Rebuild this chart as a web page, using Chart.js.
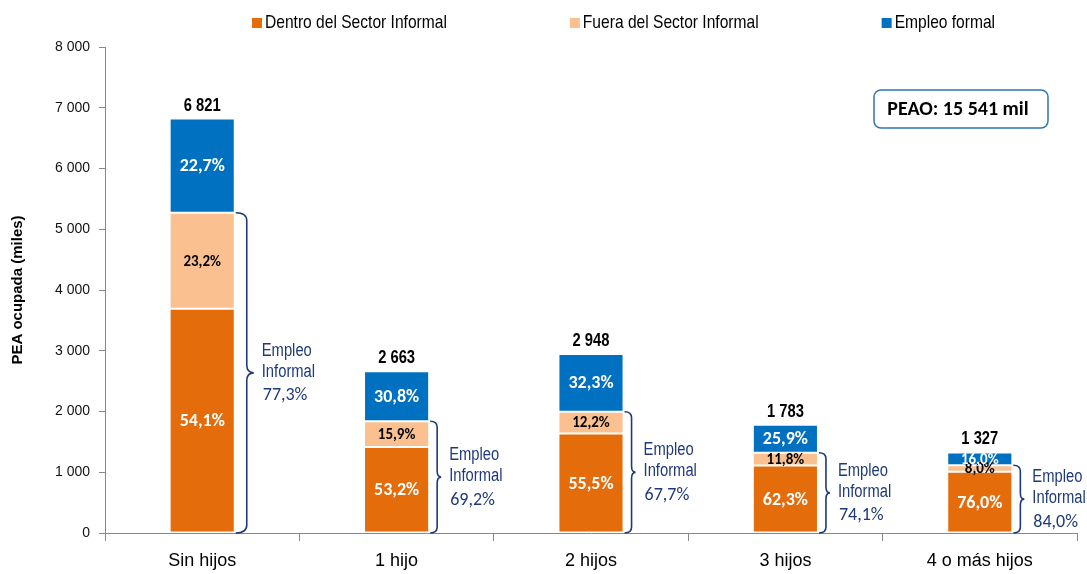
<!DOCTYPE html>
<html>
<head>
<meta charset="utf-8">
<script src="https://cdn.jsdelivr.net/npm/chart.js@4"></script>
<style>
  body { margin: 0; background: #fff; }
  #wrap { width: 1087px; height: 574px; }
</style>
</head>
<body>
<div id="wrap"><canvas id="chart" width="1087" height="574"></canvas></div>
<script>
// Categories and series (miles de personas)
const CATEGORIES = ['Sin hijos', '1 hijo', '2 hijos', '3 hijos', '4 o más hijos'];
const DENTRO = [3690, 1417, 1636, 1111, 1009];
const FUERA = [1582, 423, 360, 210, 106];
const FORMAL = [1549, 823, 952, 462, 212];
const TOTALS = [6821, 2663, 2948, 1783, 1327];

// Percent labels shown in the segments
const PCT_DENTRO = ['54,1%', '53,2%', '55,5%', '62,3%', '76,0%'];
const PCT_FUERA = ['23,2%', '15,9%', '12,2%', '11,8%', '8,0%'];
const PCT_FORMAL = ['22,7%', '30,8%', '32,3%', '25,9%', '16,0%'];
const PCT_INFORMAL = ['77,3%', '69,2%', '67,7%', '74,1%', '84,0%'];

const SERIES_NAMES = ['Dentro del Sector Informal', 'Fuera del Sector Informal', 'Empleo formal'];
const PEAO_TEXT = 'PEAO: 15 541 mil';

const ARIAL = "'Liberation Sans', Arial, sans-serif";
const CALIBRI = "Carlito, Lato, 'Open Sans', sans-serif";
const NAVY = '#1F3A7A';

function fmtThousands(v) {
    return String(v).replace(/\B(?=(\d{3})+(?!\d))/g, ' ');
}

// Arial Narrow look-alike: squeeze Liberation Sans horizontally
function narrowText(ctx, text, x, y, align) {
    const k = 0.82;
    ctx.save();
    ctx.translate(x, y);
    ctx.scale(k, 1);
    ctx.textAlign = align || 'left';
    ctx.fillText(text, 0, 0);
    ctx.restore();
    return ctx.measureText(text).width * k;
}

// Custom legend on top, spread out like the original
const legendPlugin = {
    id: 'spreadLegend',
    afterDraw(chart) {
        const ctx = chart.ctx;
        ctx.save();
        ctx.font = '19px ' + ARIAL;
        ctx.textBaseline = 'middle';
        let x = 252;
        const y = 23;
        chart.data.datasets.forEach(ds => {
            ctx.fillStyle = ds.backgroundColor;
            ctx.fillRect(x, y - 5, 10, 10);
            ctx.fillStyle = '#000';
            const w = narrowText(ctx, ds.label, x + 13, y, 'left');
            x += 13 + w + 123;
        });
        ctx.restore();
    }
};

// Segment labels, totals, braces and the PEAO box
const annotatePlugin = {
    id: 'annotate',
    afterDatasetsDraw(chart) {
        const ctx = chart.ctx;
        const pctSets = [PCT_DENTRO, PCT_FUERA, PCT_FORMAL];
        const base = chart.scales.y.getPixelForValue(0);
        ctx.save();
        ctx.textAlign = 'center';
        ctx.textBaseline = 'middle';

        // percent labels inside segments
        chart.data.datasets.forEach((ds, di) => {
            const meta = chart.getDatasetMeta(di);
            meta.data.forEach((bar, i) => {
                const h = Math.abs(bar.base - bar.y);
                const cy = (bar.y + bar.base) / 2;
                let size = di === 1 ? 15 : 18;
                if (h < 20) size = 15;
                ctx.font = 'bold ' + size + 'px ' + CALIBRI;
                ctx.fillStyle = di === 1 ? '#000' : '#fff';
                ctx.fillText(pctSets[di][i], bar.x, cy + 1);
            });
        });

        // totals above bars
        const topMeta = chart.getDatasetMeta(2);
        ctx.font = 'bold 18px ' + ARIAL;
        ctx.fillStyle = '#000';
        topMeta.data.forEach((bar, i) => {
            narrowText(ctx, fmtThousands(TOTALS[i]), bar.x, bar.y - 13, 'center');
        });

        // braces for informal employment
        const fueraMeta = chart.getDatasetMeta(1);
        fueraMeta.data.forEach((bar, i) => {
            const right = bar.x + bar.width / 2;
            const top = bar.y;
            const bottom = base;
            const mid = (top + bottom) / 2;
            const big = bottom - top > 200;
            const x0 = right + 1;
            const xv = right + (big ? 12 : 8);
            const xp = right + (big ? 19 : 12);
            const r = big ? 8 : 6;
            ctx.beginPath();
            ctx.moveTo(x0, top);
            ctx.quadraticCurveTo(xv, top, xv, top + r);
            ctx.lineTo(xv, mid - r);
            ctx.quadraticCurveTo(xv, mid, xp, mid);
            ctx.quadraticCurveTo(xv, mid, xv, mid + r);
            ctx.lineTo(xv, bottom - r);
            ctx.quadraticCurveTo(xv, bottom, x0, bottom);
            ctx.strokeStyle = NAVY;
            ctx.lineWidth = 1.6;
            ctx.stroke();

            const tx = right + (big ? 27 : 20);
            ctx.fillStyle = NAVY;
            ctx.font = '18px ' + ARIAL;
            narrowText(ctx, 'Empleo', tx, mid - 22, 'left');
            narrowText(ctx, 'Informal', tx, mid - 1, 'left');
            ctx.font = '18px ' + CALIBRI;
            ctx.textAlign = 'left';
            ctx.fillText(PCT_INFORMAL[i], tx + 1, mid + 23);
            ctx.textAlign = 'center';
        });

        // PEAO box
        const bx = 874, by = 90, bw = 174, bh = 38;
        ctx.beginPath();
        ctx.roundRect(bx, by, bw, bh, 7);
        ctx.fillStyle = '#fff';
        ctx.fill();
        ctx.strokeStyle = '#2E75B6';
        ctx.lineWidth = 1.5;
        ctx.stroke();
        ctx.font = 'bold 20px ' + CALIBRI;
        ctx.fillStyle = '#000';
        ctx.fillText(PEAO_TEXT, bx + bw / 2 - 3, by + bh / 2 + 1);

        ctx.restore();
    }
};

const barCommon = {
    stack: 'total',
    barPercentage: 0.335,
    categoryPercentage: 1.0,
    borderWidth: 1,
    borderColor: 'rgba(255,255,255,0.6)',
    borderSkipped: false
};

new Chart(document.getElementById('chart').getContext('2d'), {
    type: 'bar',
    data: {
        labels: CATEGORIES,
        datasets: [
            Object.assign({ label: SERIES_NAMES[0], data: DENTRO, backgroundColor: '#E46C0A' }, barCommon),
            Object.assign({ label: SERIES_NAMES[1], data: FUERA, backgroundColor: '#FAC090' }, barCommon),
            Object.assign({ label: SERIES_NAMES[2], data: FORMAL, backgroundColor: '#0070C0' }, barCommon)
        ]
    },
    options: {
        responsive: false,
        animation: false,
        layout: {
            padding: { left: 0, right: 10, top: 47, bottom: 0 }
        },
        plugins: {
            legend: { display: false },
            tooltip: { enabled: false },
            title: { display: false }
        },
        scales: {
            x: {
                stacked: true,
                grid: {
                    display: true,
                    drawOnChartArea: false,
                    offset: true,
                    color: '#888',
                    tickLength: 8
                },
                border: { display: true, color: '#888', width: 1 },
                ticks: {
                    color: '#000',
                    padding: 9,
                    font: { family: ARIAL, size: 18 }
                },
                afterFit(scale) { scale.height = 41; }
            },
            y: {
                stacked: true,
                min: 0,
                max: 8000,
                grid: {
                    display: true,
                    drawOnChartArea: false,
                    color: '#888',
                    tickLength: 6
                },
                border: { display: true, color: '#888', width: 1 },
                ticks: {
                    stepSize: 1000,
                    color: '#111',
                    padding: 9,
                    font: { family: ARIAL, size: 14 },
                    callback: v => fmtThousands(v)
                },
                title: {
                    display: true,
                    text: 'PEA ocupada (miles)',
                    color: '#000',
                    font: { family: ARIAL, size: 15, weight: 'bold' },
                    padding: { top: 9, bottom: 0 }
                },
                afterFit(scale) { scale.width = 105; }
            }
        }
    },
    plugins: [legendPlugin, annotatePlugin]
});
</script>
</body>
</html>
